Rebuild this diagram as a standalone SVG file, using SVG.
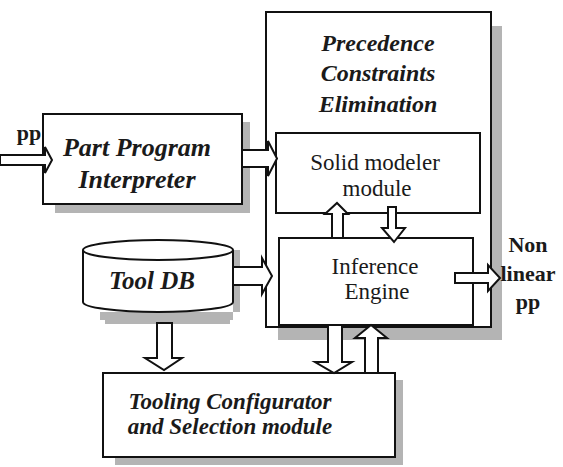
<svg xmlns="http://www.w3.org/2000/svg" width="563" height="467" viewBox="0 0 563 467">
<rect width="563" height="467" fill="#fff"/>

<g id="precedence">
<rect fill="#b4b4b4" x="491" y="26" width="11" height="314"/>
<rect fill="#b4b4b4" x="278" y="327" width="224" height="13"/>
<rect fill="#fff" stroke="#111" stroke-width="2" x="266" y="12" width="225" height="315"/>
<text x="378" y="51" font-family="Liberation Serif" font-size="24" font-weight="bold" font-style="italic" text-anchor="middle" fill="#1a1a1a">Precedence</text>
<text x="378" y="81" font-family="Liberation Serif" font-size="24" font-weight="bold" font-style="italic" text-anchor="middle" fill="#1a1a1a">Constraints</text>
<text x="378" y="112" font-family="Liberation Serif" font-size="24" font-weight="bold" font-style="italic" text-anchor="middle" fill="#1a1a1a">Elimination</text>
</g>

<g id="ppi">
<rect fill="#b4b4b4" x="242" y="122" width="8" height="91"/>
<rect fill="#b4b4b4" x="55" y="204" width="195" height="9"/>
<rect fill="#fff" stroke="#111" stroke-width="2" x="43" y="114" width="199" height="90"/>
<text x="137" y="156" font-family="Liberation Serif" font-size="26" font-weight="bold" font-style="italic" text-anchor="middle" fill="#1a1a1a">Part Program</text>
<text x="137" y="188" font-family="Liberation Serif" font-size="26" font-weight="bold" font-style="italic" text-anchor="middle" fill="#1a1a1a">Interpreter</text>
</g>

<g id="solid">
<rect fill="#fff" stroke="#111" stroke-width="2" x="276" y="133" width="204" height="80"/>
<text x="375" y="170" font-family="Liberation Serif" font-size="23" text-anchor="middle" fill="#1a1a1a">Solid modeler</text>
<text x="377" y="196" font-family="Liberation Serif" font-size="23" text-anchor="middle" fill="#1a1a1a">module</text>
</g>

<g id="inference">
<rect fill="#fff" stroke="#111" stroke-width="2" x="279" y="238" width="194" height="87"/>
<text x="375" y="274" font-family="Liberation Serif" font-size="23" text-anchor="middle" fill="#1a1a1a">Inference</text>
<text x="377" y="299" font-family="Liberation Serif" font-size="23" text-anchor="middle" fill="#1a1a1a">Engine</text>
</g>

<g id="tooldb">
<path fill="#b4b4b4" d="M100,312 L240,312 L240,250 L233,250 L233,320 L100,320 Z"/>
<rect fill="#b4b4b4" x="105" y="316" width="125" height="8"/>
<path fill="#fff" stroke="#111" stroke-width="2" d="M83,250 L83,302 A75,10 0 0 0 233,302 L233,250"/>
<ellipse fill="#fff" stroke="#111" stroke-width="2" cx="158" cy="250" rx="75" ry="10"/>
<text x="152" y="289" font-family="Liberation Serif" font-size="25" font-weight="bold" font-style="italic" text-anchor="middle" fill="#1a1a1a">Tool DB</text>
</g>

<g id="tooling">
<rect fill="#b4b4b4" x="395" y="380" width="8" height="85"/>
<rect fill="#b4b4b4" x="115" y="457" width="288" height="8"/>
<rect fill="#fff" stroke="#111" stroke-width="2" x="103" y="373" width="292" height="84"/>
<text x="230" y="409" font-family="Liberation Serif" font-size="23" font-weight="bold" font-style="italic" text-anchor="middle" fill="#1a1a1a">Tooling Configurator</text>
<text x="230" y="434" font-family="Liberation Serif" font-size="23" font-weight="bold" font-style="italic" text-anchor="middle" fill="#1a1a1a">and Selection module</text>
</g>

<g id="connectors" fill="#fff" stroke="#111" stroke-width="2">
<path d="M0,155 L45,155 L45,147 L52,160 L45,173 L45,165 L0,165 Z"/>
<path d="M242,150 L268,150 L268,141 L277,158.5 L268,176 L268,167 L242,167 Z"/>
<path d="M233,267 L262,267 L262,258 L272,276 L262,294 L262,285 L233,285 Z"/>
<path d="M332,238 L332,214 L325,214 L337,203 L348,214 L343,214 L343,238 Z"/>
<path d="M388,207 L396,207 L396,228 L405,228 L394,242 L382,228 L388,228 Z"/>
<path d="M455,273 L488,273 L488,265 L500,278 L488,291 L488,283 L455,283 Z"/>
<path d="M157,323 L172,323 L172,358 L182,358 L164,370 L145,358 L157,358 Z"/>
<path d="M328,325 L342,325 L342,362 L352,362 L334,373 L315,362 L328,362 Z"/>
<path d="M365,373 L365,338 L355,338 L371,325 L387,338 L378,338 L378,373 Z"/>
</g>
<text x="29" y="140" font-family="Liberation Serif" font-size="22" font-weight="bold" text-anchor="middle" fill="#1a1a1a">pp</text>
<text x="528" y="252" font-family="Liberation Serif" font-size="22" font-weight="bold" text-anchor="middle" fill="#1a1a1a">Non</text>
<text x="528" y="281" font-family="Liberation Serif" font-size="22" font-weight="bold" text-anchor="middle" fill="#1a1a1a">linear</text>
<text x="528" y="309" font-family="Liberation Serif" font-size="22" font-weight="bold" text-anchor="middle" fill="#1a1a1a">pp</text>
</svg>
